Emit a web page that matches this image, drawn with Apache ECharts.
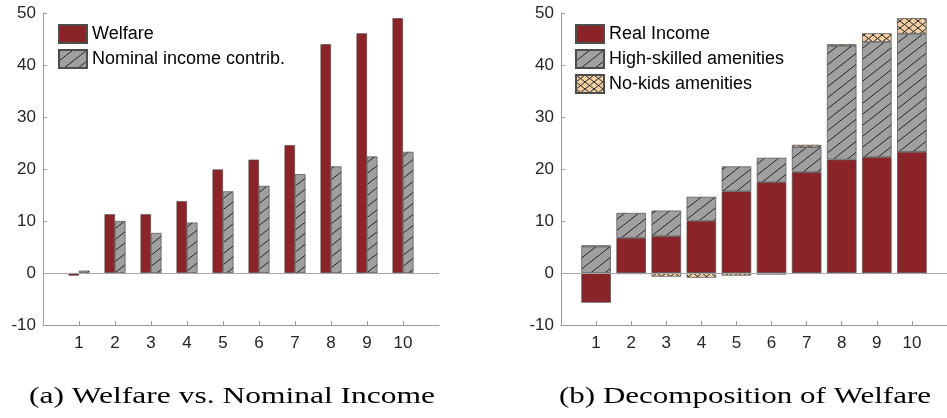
<!DOCTYPE html>
<html><head><meta charset="utf-8">
<script src="https://cdn.jsdelivr.net/npm/echarts@6/dist/echarts.min.js"></script>
<style>html,body{margin:0;padding:0;background:#fff}#c{width:947px;height:418px}</style>
</head><body><div id="c"></div>
<script>
// ---- data ----
const categories = [1, 2, 3, 4, 5, 6, 7, 8, 9, 10];
const welfare = [-0.5, 11.3, 11.3, 13.8, 19.9, 21.8, 24.6, 44.0, 46.1, 49.0];
const nominalIncome = [0.45, 10.0, 7.7, 9.7, 15.7, 16.75, 19.0, 20.5, 22.4, 23.3];
const realIncome = [-5.7, 6.75, 7.1, 10.0, 15.7, 17.45, 19.4, 21.8, 22.3, 23.3];
const highSkilled = [5.1, 4.8, 4.9, 4.65, 4.8, 4.7, 4.8, 21.9, 22.15, 22.7];
const noKids = [0.2, -0.2, -0.7, -0.9, -0.5, -0.3, 0.45, 0.3, 1.65, 3.0];
const yMin = -10, yMax = 50, yStep = 10;
const captionA = '(a) Welfare vs. Nominal Income';
const captionB = '(b) Decomposition of Welfare';

// ---- styles ----
const RED = '#8b2429', GRAY = '#a0a0a0', PEACH = '#f3cea2';
const AXIS = '#9a9a9a', EDGE = '#4d4d4d', TXT = '#262626';
const SANS = 'Liberation Sans, Arial, sans-serif';

function hatch(bg, w, h, cross) {
  const c = document.createElement('canvas'); c.width = w; c.height = h;
  const g = c.getContext('2d');
  g.fillStyle = bg; g.fillRect(0, 0, w, h);
  g.strokeStyle = '#262626'; g.lineWidth = 1;
  for (const dx of [-w, 0, w]) for (const dy of [-h, 0, h]) {
    g.beginPath(); g.moveTo(dx, h + dy); g.lineTo(w + dx, dy); g.stroke();
    if (cross) { g.beginPath(); g.moveTo(dx, dy); g.lineTo(w + dx, h + dy); g.stroke(); }
  }
  return { image: c, repeat: 'repeat' };
}
const grayHatch = hatch(GRAY, 14, 11, false);
const peachCross = hatch(PEACH, 9, 7, true);

// value first, category second (so the value dimension is the stacked one)
const pairs = arr => categories.map((c, i) => [arr[i], c]);
const enc = { x: 1, y: 0 };

function xAxis(gi) {
  return {
    type: 'value', gridIndex: gi, min: 0, max: 11, interval: 1,
    axisLine: { show: true, onZero: false, lineStyle: { color: AXIS, width: 1 } },
    axisTick: { show: true, inside: true, length: 4, customValues: categories, lineStyle: { color: AXIS } },
    axisLabel: { customValues: categories, margin: 10, color: TXT, fontSize: 17, fontFamily: SANS },
    splitLine: { show: false }
  };
}
function yAxis(gi) {
  return {
    type: 'value', gridIndex: gi, min: yMin, max: yMax, interval: yStep,
    axisLine: { show: true, lineStyle: { color: AXIS, width: 1 } },
    axisTick: { show: true, inside: true, length: 4, lineStyle: { color: AXIS } },
    axisLabel: { margin: 7, color: TXT, fontSize: 17, fontFamily: SANS },
    splitLine: { show: false }
  };
}
const zeroLine = {
  silent: true, symbol: 'none', label: { show: false },
  lineStyle: { color: '#a6a6a6', type: 'solid', width: 1 },
  emphasis: { disabled: true }, animation: false,
  data: [{ yAxis: 0 }]
};
const legendBase = {
  orient: 'vertical', top: 24, padding: 0, itemWidth: 28, itemHeight: 18, itemGap: 5,
  icon: 'rect', selectedMode: false,
  textStyle: { fontSize: 18, fontFamily: SANS, color: '#000' }
};

function fitScale(text, font, target) {
  const g = document.createElement('canvas').getContext('2d');
  g.font = font; return target / g.measureText(text).width;
}
const CAPFONT = '23px "Liberation Serif"';

const chart = echarts.init(document.getElementById('c'), null, { renderer: 'canvas' });
chart.setOption({
  animation: false,
  backgroundColor: '#fff',
  grid: [
    { left: 43, top: 13, width: 396, height: 312, containLabel: false },
    { left: 561, top: 13, width: 396, height: 312, containLabel: false }
  ],
  xAxis: [xAxis(0), xAxis(1)],
  yAxis: [yAxis(0), yAxis(1)],
  legend: [
    Object.assign({}, legendBase, { left: 58, data: ['Welfare', 'Nominal income contrib.'] }),
    Object.assign({}, legendBase, { left: 575, data: ['Real Income', 'High-skilled amenities', 'No-kids amenities'] })
  ],
  series: [
    { name: 'Welfare', type: 'bar', xAxisIndex: 0, yAxisIndex: 0, barWidth: 10.5, barGap: '0%', encode: enc,
      itemStyle: { color: RED, borderColor: EDGE, borderWidth: 0.7 }, data: pairs(welfare), markLine: zeroLine },
    { name: 'Nominal income contrib.', type: 'bar', xAxisIndex: 0, yAxisIndex: 0, barWidth: 10.5, barGap: '0%', encode: enc,
      itemStyle: { color: grayHatch, borderColor: EDGE, borderWidth: 0.7 }, data: pairs(nominalIncome) },
    { name: 'Real Income', type: 'bar', stack: 'w', xAxisIndex: 1, yAxisIndex: 1, barWidth: 29.5, encode: enc,
      itemStyle: { color: RED, borderColor: EDGE, borderWidth: 0.7 }, data: pairs(realIncome), markLine: zeroLine },
    { name: 'High-skilled amenities', type: 'bar', stack: 'w', xAxisIndex: 1, yAxisIndex: 1, barWidth: 29.5, encode: enc,
      itemStyle: { color: grayHatch, borderColor: EDGE, borderWidth: 0.7 }, data: pairs(highSkilled) },
    { name: 'No-kids amenities', type: 'bar', stack: 'w', xAxisIndex: 1, yAxisIndex: 1, barWidth: 29.5, encode: enc,
      itemStyle: { color: peachCross, borderColor: EDGE, borderWidth: 0.7 }, data: pairs(noKids) }
  ],
  graphic: [
    { type: 'text', x: 232, y: 397, scaleX: fitScale(captionA, CAPFONT, 406), silent: true,
      style: { text: captionA, font: CAPFONT, fill: '#000', align: 'center', verticalAlign: 'middle' } },
    { type: 'text', x: 745, y: 397, scaleX: fitScale(captionB, CAPFONT, 372), silent: true,
      style: { text: captionB, font: CAPFONT, fill: '#000', align: 'center', verticalAlign: 'middle' } }
  ]
});
</script>
</body></html>
